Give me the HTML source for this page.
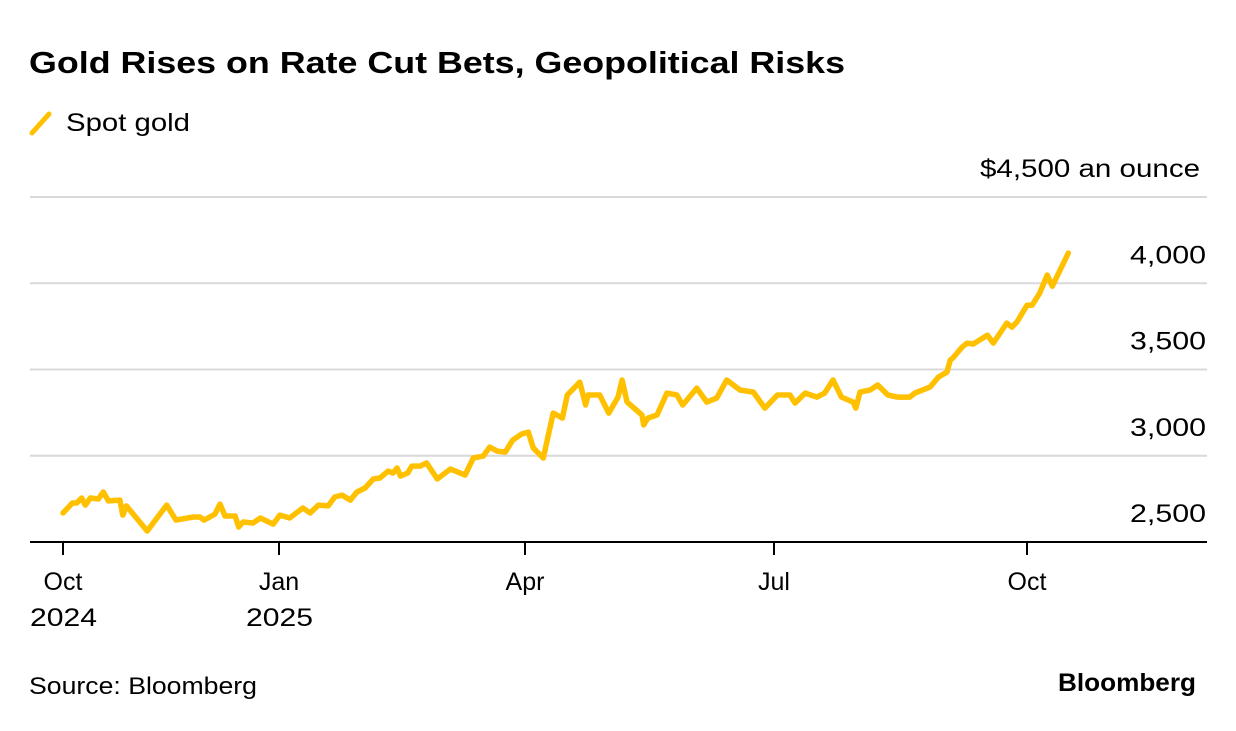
<!DOCTYPE html>
<html><head><meta charset="utf-8"><style>
html,body{margin:0;padding:0;background:#fff;}
body{width:1236px;height:726px;overflow:hidden;font-family:"Liberation Sans",Arial,sans-serif;}
</style></head><body>
<svg id="chart" width="1236" height="726" viewBox="0 0 1236 726" xmlns="http://www.w3.org/2000/svg" font-family="Liberation Sans, Arial, sans-serif">
<text x="29" y="73" font-size="31" font-weight="bold" fill="#000" textLength="816" lengthAdjust="spacingAndGlyphs">Gold Rises on Rate Cut Bets, Geopolitical Risks</text>
<g>
<line x1="32" y1="133" x2="49" y2="114" stroke="#FFC000" stroke-width="5" stroke-linecap="round"/>
<text x="66" y="131" font-size="25" fill="#000" textLength="124" lengthAdjust="spacingAndGlyphs">Spot gold</text>
</g>
<g id="grid"></g>
<g id="yticks"></g>
<g id="xticks"></g>
<path id="line" fill="none" stroke="#FFC000" stroke-width="5.5" stroke-linejoin="round" stroke-linecap="round"/>
<text x="29" y="694" font-size="24" fill="#000" textLength="228" lengthAdjust="spacingAndGlyphs">Source: Bloomberg</text>
<text x="1058" y="691" font-size="25" font-weight="bold" fill="#000" textLength="138" lengthAdjust="spacingAndGlyphs">Bloomberg</text>
</svg>
<script>
// months since Oct 1 2024
const months = [0.00,0.13,0.19,0.26,0.31,0.38,0.49,0.56,0.63,0.79,0.83,0.88,1.17,1.44,1.57,1.81,1.90,1.96,2.11,2.18,2.25,2.39,2.44,2.50,2.64,2.74,2.92,
3.01,3.13,3.29,3.38,3.48,3.60,3.68,3.77,3.87,3.95,4.05,4.15,4.23,4.33,4.39,4.44,4.48,4.57,4.62,4.72,4.80,4.93,5.09,5.27,5.37,5.49,5.57,5.66,5.76,5.85,5.96,
6.04,6.10,6.22,6.34,6.45,6.51,6.66,6.73,6.76,6.90,7.01,7.12,7.17,7.23,7.41,7.43,7.48,7.59,7.71,7.83,7.90,8.07,8.19,8.31,8.43,8.59,8.75,8.89,
9.04,9.19,9.25,9.37,9.51,9.60,9.70,9.80,9.94,9.97,10.02,10.14,10.23,10.35,10.46,10.61,10.67,10.73,10.85,10.95,11.05,11.09,11.12,11.23,11.29,11.36,11.53,11.60,11.68,11.76,11.82,11.88,12.00,12.06,12.15,12.24,12.30,12.49];
const prices = [2668,2726,2726,2755,2714,2755,2749,2790,2738,2743,2656,2709,2564,2714,2627,2645,2645,2627,2662,2720,2651,2651,2587,2616,2610,2639,2604,
2656,2639,2697,2668,2714,2709,2761,2772,2743,2790,2813,2865,2871,2911,2900,2929,2882,2900,2940,2940,2958,2865,2923,2888,2987,2998,3050,3027,3021,3091,3126,
3137,3045,2987,3247,3218,3352,3427,3294,3352,3352,3247,3340,3439,3311,3236,3178,3218,3236,3363,3352,3294,3392,3311,3334,3439,3381,3369,3276,
3352,3352,3305,3363,3340,3363,3439,3340,3311,3276,3369,3381,3410,3352,3340,3340,3363,3375,3398,3456,3485,3555,3566,3630,3653,3647,3699,3653,3711,3769,3746,3775,3873,3873,3943,4047,3983,4175];
const yTicks = [2500,3000,3500,4000,4500];
const yTickLabels = ["2,500","3,000","3,500","4,000","$4,500 an ounce"];
const xTickMonths = [0,3,6,9,12];
const xTickLabels = [["Oct","2024"],["Jan","2025"],["Apr",""],["Jul",""],["Oct",""]];

const NS="http://www.w3.org/2000/svg";
const xAnchorM=[0,3,6,9,12,15], xAnchorP=[63,279,525,774,1027,1280];
function xScale(m){
  for(let i=0;i<xAnchorM.length-1;i++){
    if(m<=xAnchorM[i+1]||i===xAnchorM.length-2){
      return xAnchorP[i]+(m-xAnchorM[i])/(xAnchorM[i+1]-xAnchorM[i])*(xAnchorP[i+1]-xAnchorP[i]);
    }
  }
}
function yScale(v){return 542-(v-2500)*(345/2000);}
function mk(tag,attrs,parent){const e=document.createElementNS(NS,tag);for(const k in attrs)e.setAttribute(k,attrs[k]);parent.appendChild(e);return e;}

const grid=document.getElementById('grid'), yt=document.getElementById('yticks'), xt=document.getElementById('xticks');
yTicks.forEach((v,i)=>{
  const y=yScale(v);
  if(i>0){
    const g=mk('line',{x1:30,x2:1207,y1:y,y2:y,stroke:'#d9d9d9','stroke-width':2},grid);
    
    
  }
  const last=i===yTicks.length-1;
  const t=mk('text',{x:last?980:1130,y:y-20,'font-size':25,fill:'#000',textLength:last?220:76,lengthAdjust:'spacingAndGlyphs'},yt);
  t.textContent=yTickLabels[i];
  
  
});
const axis=mk('line',{x1:30,x2:1207,y1:542,y2:542,stroke:'#000','stroke-width':2},grid);


xTickMonths.forEach((m,i)=>{
  const x=xScale(m);
  const tk=mk('line',{x1:x,x2:x,y1:542,y2:555,stroke:'#000','stroke-width':2},xt);
  
  
  const t=mk('text',{x:x,y:590,'font-size':25,'text-anchor':'middle',fill:'#000'},xt);
  t.textContent=xTickLabels[i][0];
  
  
  if(xTickLabels[i][1]){
    const t2=mk('text',{x:x-33,y:626,'font-size':25,fill:'#000',textLength:67,lengthAdjust:'spacingAndGlyphs'},xt);
    t2.textContent=xTickLabels[i][1];
    
    
  }
});
document.getElementById('line').setAttribute('d',months.map((m,i)=>(i?'L':'M')+xScale(m).toFixed(1)+','+yScale(prices[i]).toFixed(1)).join(''));
</script>
</body></html>
